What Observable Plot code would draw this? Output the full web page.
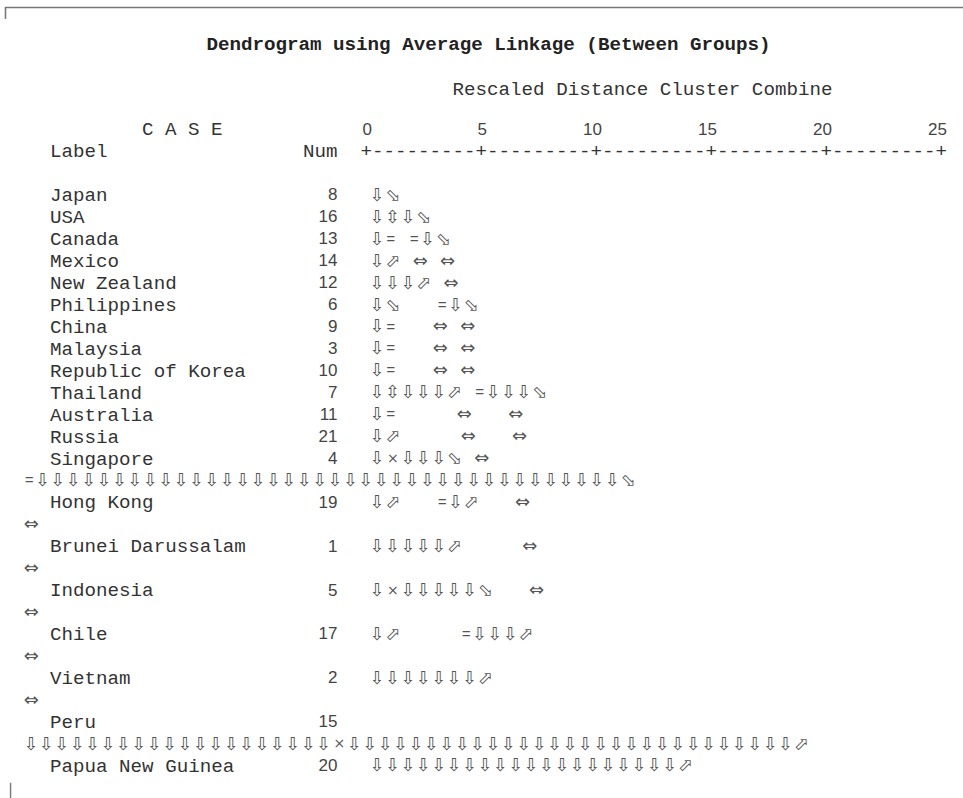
<!DOCTYPE html>
<html>
<head>
<meta charset="utf-8">
<script src="https://cdn.jsdelivr.net/npm/d3@7"></script>
<script src="https://cdn.jsdelivr.net/npm/@observablehq/plot@0.6"></script>
<style>
  html, body { margin: 0; padding: 0; background: #fff; }
  #chart svg { display: block; }
</style>
</head>
<body>
<div id="chart"></div>
<script>
// ---------------- data ----------------
const titleText = "Dendrogram using Average Linkage (Between Groups)";
const axisTitle = "Rescaled Distance Cluster Combine";
const caseHeader = "C A S E";
const labelHeader = "Label";
const numHeader = "Num";
const axisRuler = "+---------+---------+---------+---------+---------+";
const distanceTicks = [0, 5, 10, 15, 20, 25];

const countries = ["Japan", "USA", "Canada", "Mexico", "New Zealand", "Philippines",
  "China", "Malaysia", "Republic of Korea", "Thailand", "Australia", "Russia",
  "Singapore", "Hong Kong", "Brunei Darussalam", "Indonesia", "Chile", "Vietnam",
  "Peru", "Papua New Guinea"];
const caseNums = [8, 16, 13, 14, 12, 6, 9, 3, 10, 7, 11, 21, 4, 19, 1, 5, 17, 2, 15, 20];

// dendrogram branches as they appear (substituted box-drawing glyphs), one per case
const treeRows = [
  "⇩⬂",
  "⇩⇳⇩⬂",
  "⇩= =⇩⬂",
  "⇩⬀ ⇔ ⇔",
  "⇩⇩⇩⬀ ⇔",
  "⇩⬂   =⇩⬂",
  "⇩=   ⇔ ⇔",
  "⇩=   ⇔ ⇔",
  "⇩=   ⇔ ⇔",
  "⇩⇳⇩⇩⇩⬀ =⇩⇩⇩⬂",
  "⇩=     ⇔   ⇔",
  "⇩⬀     ⇔   ⇔",
  "⇩×⇩⇩⇩⬂ ⇔",
  "⇩⬀   =⇩⬀   ⇔",
  "⇩⇩⇩⇩⇩⬀     ⇔",
  "⇩×⇩⇩⇩⇩⇩⬂   ⇔",
  "⇩⬀     =⇩⇩⇩⬀",
  "⇩⇩⇩⇩⇩⇩⇩⬀",
  "",
  "⇩⇩⇩⇩⇩⇩⇩⇩⇩⇩⇩⇩⇩⇩⇩⇩⇩⇩⇩⇩⬀"
];
// wrapped continuation lines that follow some cases
const wrapCases = ["Singapore", "Hong Kong", "Brunei Darussalam", "Indonesia", "Chile", "Vietnam", "Peru"];
const wrapRows = [
  "=⇩⇩⇩⇩⇩⇩⇩⇩⇩⇩⇩⇩⇩⇩⇩⇩⇩⇩⇩⇩⇩⇩⇩⇩⇩⇩⇩⇩⇩⇩⇩⇩⇩⇩⇩⇩⇩⇩⬂",
  "⇔",
  "⇔",
  "⇔",
  "⇔",
  "⇔",
  "⇩⇩⇩⇩⇩⇩⇩⇩⇩⇩⇩⇩⇩⇩⇩⇩⇩⇩⇩⇩×⇩⇩⇩⇩⇩⇩⇩⇩⇩⇩⇩⇩⇩⇩⇩⇩⇩⇩⇩⇩⇩⇩⇩⇩⇩⇩⇩⇩⇩⬀"
];

// ---------------- layout (character grid) ----------------
const CELL = 11.5;               // px per monospace cell
const GLYPH = 15.4 / CELL;       // advance of substituted glyphs, in cells
const SPACE = 12 / CELL;         // advance of blanks inside the tree, in cells
const wideGlyphs = new Set(["⇩", "⬂", "⬀", "⇳", "⇔", "×"]);
const COL_LABEL = 2, COL_NUM_END = 27, COL_RULER = 29, COL_TREE = 29.8, COL_WRAP = -0.3;

const lines = [];
countries.forEach((name, i) => {
  lines.push({label: name, num: caseNums[i], tree: treeRows[i], start: COL_TREE});
  const w = wrapCases.indexOf(name);
  if (w >= 0) lines.push({label: null, num: null, tree: wrapRows[w], start: COL_WRAP});
});
lines.forEach((d, i) => d.row = i);
const caseLines = lines.filter(d => d.label !== null);

function layoutGlyphs(str, startCol, row) {
  const out = [];
  let c = startCol;
  for (const ch of str) {
    const adv = wideGlyphs.has(ch) ? GLYPH : ch === " " ? SPACE : 1;
    if (ch !== " ") out.push({ch, x: c + adv / 2, row, wide: wideGlyphs.has(ch)});
    c += adv;
  }
  return out;
}
const glyphs = lines.flatMap(d => layoutGlyphs(d.tree, d.start, d.row));
const rulerChars = layoutGlyphs(axisRuler, COL_RULER, -2);

const ROW_TITLE = -6.9, ROW_AXIS_TITLE = -4.85, ROW_CASE = -3, ROW_LABEL = -2;
const mono = "Liberation Mono, Courier New, monospace";
const sans = "Liberation Sans, Arial, sans-serif";
const FS = 19.2;
const ink = "#333";
const glyphInk = "#555";

const chart = Plot.plot({
  width: 963,
  height: 798,
  margin: 0,
  style: {background: "#fff"},
  x: {type: "linear", domain: [0, 80], range: [26.5, 26.5 + 80 * CELL], axis: null},
  y: {type: "linear", domain: [0, 26], range: [194.5, 194.5 + 26 * 21.95], axis: null},
  marks: [
    Plot.ruleY([-8.54], {x1: -1.87, x2: 82, stroke: "#777", strokeWidth: 1.6}),
    Plot.ruleX([-1.87], {y1: -8.54, y2: -8.0, stroke: "#777", strokeWidth: 1.6}),
    Plot.ruleX([-1.43], {y1: 26.8, y2: 27.6, stroke: "#777", strokeWidth: 1.4}),
    Plot.text([titleText], {x: 15.6, y: ROW_TITLE, text: d => d, textAnchor: "start",
      fontFamily: mono, fontSize: FS, fontWeight: "bold", fill: "#222"}),
    Plot.text([axisTitle], {x: 37, y: ROW_AXIS_TITLE, text: d => d, textAnchor: "start",
      fontFamily: mono, fontSize: FS, fill: ink}),
    Plot.text([caseHeader], {x: 10, y: ROW_CASE, text: d => d, textAnchor: "start",
      fontFamily: mono, fontSize: FS, fill: ink}),
    Plot.text([labelHeader], {x: COL_LABEL, y: ROW_LABEL, text: d => d, textAnchor: "start",
      fontFamily: mono, fontSize: FS, fill: ink}),
    Plot.text([numHeader], {x: COL_NUM_END, y: ROW_LABEL, text: d => d, textAnchor: "end",
      fontFamily: mono, fontSize: FS, fill: ink}),
    Plot.text(rulerChars, {x: "x", y: "row", text: "ch", fontFamily: mono, fontSize: FS, fill: ink}),
    Plot.text(distanceTicks, {x: t => COL_RULER + 2 * t + 1, y: ROW_CASE, text: d => String(d),
      textAnchor: "end", fontFamily: sans, fontSize: 17, fill: "#444"}),
    Plot.text(caseLines, {x: COL_LABEL, y: "row", text: "label", textAnchor: "start",
      fontFamily: mono, fontSize: FS, fill: ink}),
    Plot.text(caseLines, {x: COL_NUM_END, y: "row", text: d => String(d.num), textAnchor: "end",
      fontFamily: sans, fontSize: 17, fill: "#444"}),
    Plot.text(glyphs.filter(d => d.wide && d.ch !== "×"), {x: "x", y: "row", text: "ch",
      fontFamily: "DejaVu Sans, sans-serif", fontSize: 18, fill: glyphInk}),
    Plot.text(glyphs.filter(d => d.ch === "×"), {x: "x", y: "row", text: "ch",
      fontFamily: "DejaVu Sans, sans-serif", fontSize: 14, fill: glyphInk}),
    Plot.text(glyphs.filter(d => !d.wide), {x: "x", y: "row", text: "ch",
      fontFamily: mono, fontSize: 15, fill: glyphInk})
  ]
});
document.getElementById("chart").append(chart);
</script>
</body>
</html>
